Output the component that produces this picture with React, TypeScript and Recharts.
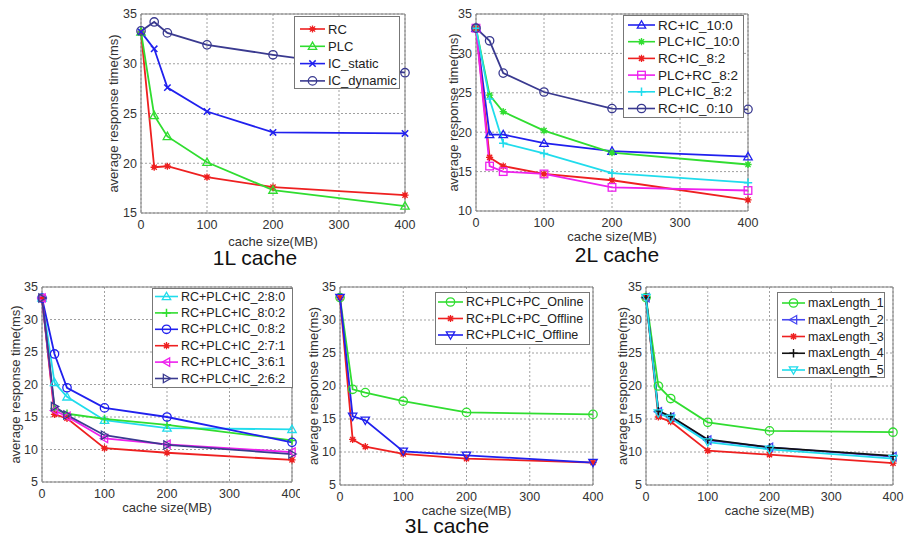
import React from 'react';
import {
  LineChart,
  Line,
  XAxis,
  YAxis,
  CartesianGrid,
  Legend,
  ReferenceArea,
} from 'recharts';

const cacheSizes = [0, 20, 40, 100, 200, 400];
const xTicks = [0, 100, 200, 300, 400];

// 1L cache
const rc1 = [33.2, 19.6, 19.7, 18.6, 17.6, 16.8];
const plc1 = [33.2, 24.8, 22.7, 20.1, 17.3, 15.7];
const icStatic1 = [33.2, 31.5, 27.6, 25.2, 23.1, 23.0];
const icDynamic1 = [33.3, 34.2, 33.1, 31.9, 30.9, 29.1];

// 2L cache
const rcIc100 = [33.2, 19.7, 19.7, 18.6, 17.6, 16.9];
const plcIc100 = [33.2, 24.7, 22.6, 20.2, 17.4, 15.9];
const rcIc82 = [33.2, 16.8, 15.7, 14.7, 13.9, 11.4];
const plcRc82 = [33.2, 15.7, 15.0, 14.7, 13.0, 12.6];
const plcIc82 = [33.2, 24.2, 18.6, 17.3, 14.8, 13.6];
const rcIc010 = [33.2, 31.6, 27.5, 25.1, 23.0, 22.9];

// 3L cache, ratios
const mix280 = [33.3, 20.3, 18.1, 14.5, 13.3, 13.1];
const mix802 = [33.3, 16.3, 15.5, 14.7, 13.8, 11.4];
const mix082 = [33.3, 24.7, 19.5, 16.4, 15.0, 11.1];
const mix271 = [33.3, 15.4, 14.8, 10.2, 9.5, 8.4];
const mix361 = [33.3, 16.0, 15.1, 11.7, 10.8, 9.6];
const mix262 = [33.3, 16.6, 15.3, 12.2, 10.7, 9.3];

// 3L cache, online / offline
const pcOnline = [33.4, 19.5, 19.0, 17.7, 16.0, 15.7];
const pcOffline = [33.4, 11.9, 10.8, 9.7, 9.0, 8.4];
const icOffline = [33.4, 15.4, 14.8, 10.1, 9.5, 8.4];

// 3L cache, maxLength
const maxLen1 = [33.4, 20.0, 18.1, 14.5, 13.2, 13.0];
const maxLen2 = [33.4, 16.1, 15.3, 11.8, 10.7, 9.3];
const maxLen3 = [33.4, 15.3, 14.6, 10.2, 9.6, 8.3];
const maxLen4 = [33.4, 16.2, 15.4, 11.9, 10.7, 9.4];
const maxLen5 = [33.4, 15.9, 15.1, 11.5, 10.4, 9.0];

const RED = '#ee2020';
const GREEN = '#30dd30';
const BLUE = '#2020ee';
const NAVY = '#3a3a90';
const MAGENTA = '#ee20ee';
const CYAN = '#20dcec';
const BLACK = '#111111';

const FONT = '"Liberation Sans", Arial, sans-serif';

type Shape = 'o' | '^' | 'v' | '<' | '>' | 's' | '*' | 'x' | '+' | '.';

interface SeriesDef {
  name: string;
  values: number[];
  color: string;
  shape: Shape;
}

function Marker({ shape, cx, cy, color }: { shape: Shape; cx: number; cy: number; color: string }) {
  const r = 4.2;
  const sw = 1.3;
  const poly = (pts: number[][]) => (
    <polygon
      points={pts.map((p) => `${cx + p[0]},${cy + p[1]}`).join(' ')}
      fill="none"
      stroke={color}
      strokeWidth={sw}
    />
  );
  switch (shape) {
    case 'o':
      return <circle cx={cx} cy={cy} r={r} fill="none" stroke={color} strokeWidth={sw} />;
    case 's':
      return <rect x={cx - 3.8} y={cy - 3.8} width={7.6} height={7.6} fill="none" stroke={color} strokeWidth={sw} />;
    case '^':
      return poly([[0, -r], [-r, r * 0.75], [r, r * 0.75]]);
    case 'v':
      return poly([[0, r], [-r, -r * 0.75], [r, -r * 0.75]]);
    case '<':
      return poly([[-r, 0], [r * 0.75, -r], [r * 0.75, r]]);
    case '>':
      return poly([[r, 0], [-r * 0.75, -r], [-r * 0.75, r]]);
    case '+':
      return (
        <path d={`M${cx - r},${cy}H${cx + r}M${cx},${cy - r}V${cy + r}`} stroke={color} strokeWidth={1.5} />
      );
    case 'x': {
      const d = 3.2;
      return (
        <path
          d={`M${cx - d},${cy - d}L${cx + d},${cy + d}M${cx - d},${cy + d}L${cx + d},${cy - d}`}
          stroke={color}
          strokeWidth={1.5}
        />
      );
    }
    case '*': {
      const d = 2.6;
      const a = 3.6;
      return (
        <g>
          <circle cx={cx} cy={cy} r={2.2} fill={color} />
          <path
            d={`M${cx - a},${cy}H${cx + a}M${cx},${cy - a}V${cy + a}M${cx - d},${cy - d}L${cx + d},${cy + d}M${cx - d},${cy + d}L${cx + d},${cy - d}`}
            stroke={color}
            strokeWidth={1.3}
          />
        </g>
      );
    }
    default:
      return <circle cx={cx} cy={cy} r={2.8} fill={color} />;
  }
}

interface LegendLayout {
  x: number;
  y: number;
  w: number;
  h: number;
  first: number;
  step: number;
  lineX0: number;
  lineX1: number;
  textX: number;
  fontSize: number;
}

// legend rows follow the order the series are declared in
function LegendBox({ series, box }: { series: SeriesDef[]; box: LegendLayout }) {
  return (
    <svg width={box.w} height={box.h} style={{ display: 'block', overflow: 'visible' }}>
      <rect x={0.5} y={0.5} width={box.w - 1} height={box.h - 1} fill="#fff" stroke="#777" />
      {series.map((s, i) => {
        const y = box.first + i * box.step;
        const mid = (box.lineX0 + box.lineX1) / 2;
        return (
          <g key={s.name}>
            <line x1={box.lineX0} x2={box.lineX1} y1={y} y2={y} stroke={s.color} strokeWidth={1.6} />
            <Marker shape={s.shape} cx={mid} cy={y} color={s.color} />
            <text
              x={box.textX}
              y={y}
              dominantBaseline="central"
              fontSize={box.fontSize}
              fontFamily={FONT}
              fill="#222"
            >
              {s.name}
            </text>
          </g>
        );
      })}
    </svg>
  );
}

interface PanelProps {
  series: SeriesDef[];
  yDomain: [number, number];
  yTicks: number[];
  plot: { x0: number; x1: number; y0: number; y1: number };
  xLabelY: number;
  yLabelX: number;
  legend: LegendLayout;
}

function Panel({ series, yDomain, yTicks, plot, xLabelY, yLabelX, legend }: PanelProps) {
  const yw = 40;
  const mt = 12;
  const mr = 16;
  const L = plot.x0 - yw;
  const T = plot.y0 - mt;
  const xh = xLabelY - plot.y1 + 14;
  const W = plot.x1 - L + mr;
  const H = plot.y1 - T + xh;

  const data = cacheSizes.map((size, i) => {
    const row: Record<string, number> = { size };
    series.forEach((s) => {
      row[s.name] = s.values[i];
    });
    return row;
  });

  return (
    <div style={{ position: 'absolute', left: L, top: T }}>
      <LineChart width={W} height={H} data={data} margin={{ top: mt, right: mr, bottom: 0, left: 0 }}>
        <CartesianGrid stroke="#a0a0a0" strokeDasharray="2 2" />
        <XAxis
          dataKey="size"
          type="number"
          domain={[0, 400]}
          ticks={xTicks}
          interval={0}
          height={xh}
          tickSize={0}
          tickMargin={7}
          axisLine={false}
          tick={{ fontSize: 12.5, fill: '#333', fontFamily: FONT }}
          label={{ value: 'cache size(MB)', position: 'insideBottom', offset: 5, fontSize: 13, fill: '#333', fontFamily: FONT }}
        />
        <YAxis
          type="number"
          domain={yDomain}
          ticks={yTicks}
          interval={0}
          width={yw}
          tickSize={0}
          tickMargin={4}
          axisLine={false}
          tick={{ fontSize: 12.5, fill: '#333', fontFamily: FONT }}
          label={{
            value: 'average response time(ms)',
            angle: -90,
            position: 'insideLeft',
            offset: yLabelX - L,
            fontSize: 13,
            fill: '#333',
            fontFamily: FONT,
            style: { textAnchor: 'middle' },
          }}
        />
        <ReferenceArea x1={0} x2={400} y1={yDomain[0]} y2={yDomain[1]} fill="none" stroke="#808080" strokeWidth={1} />
        {series.map((s) => (
          <Line
            key={s.name}
            type="linear"
            dataKey={s.name}
            name={s.name}
            stroke={s.color}
            strokeWidth={1.8}
            dot={(p: any) => <Marker key={`${s.name}-${p.index}`} shape={s.shape} cx={p.cx} cy={p.cy} color={s.color} />}
            activeDot={false}
            isAnimationActive={false}
          />
        ))}
        <Legend
          layout="vertical"
          align="center"
          verticalAlign="middle"
          wrapperStyle={{ left: legend.x - L, top: legend.y - T, width: legend.w, height: legend.h }}
          content={() => <LegendBox series={series} box={legend} />}
        />
      </LineChart>
    </div>
  );
}

const series1L: SeriesDef[] = [
  { name: 'RC', values: rc1, color: RED, shape: '*' },
  { name: 'PLC', values: plc1, color: GREEN, shape: '^' },
  { name: 'IC_static', values: icStatic1, color: BLUE, shape: 'x' },
  { name: 'IC_dynamic', values: icDynamic1, color: NAVY, shape: 'o' },
];

const series2L: SeriesDef[] = [
  { name: 'RC+IC_10:0', values: rcIc100, color: BLUE, shape: '^' },
  { name: 'PLC+IC_10:0', values: plcIc100, color: GREEN, shape: '*' },
  { name: 'RC+IC_8:2', values: rcIc82, color: RED, shape: '*' },
  { name: 'PLC+RC_8:2', values: plcRc82, color: MAGENTA, shape: 's' },
  { name: 'PLC+IC_8:2', values: plcIc82, color: CYAN, shape: '+' },
  { name: 'RC+IC_0:10', values: rcIc010, color: NAVY, shape: 'o' },
];

const series3Lmix: SeriesDef[] = [
  { name: 'RC+PLC+IC_2:8:0', values: mix280, color: CYAN, shape: '^' },
  { name: 'RC+PLC+IC_8:0:2', values: mix802, color: GREEN, shape: '+' },
  { name: 'RC+PLC+IC_0:8:2', values: mix082, color: BLUE, shape: 'o' },
  { name: 'RC+PLC+IC_2:7:1', values: mix271, color: RED, shape: '*' },
  { name: 'RC+PLC+IC_3:6:1', values: mix361, color: MAGENTA, shape: '<' },
  { name: 'RC+PLC+IC_2:6:2', values: mix262, color: NAVY, shape: '>' },
];

const series3Lonline: SeriesDef[] = [
  { name: 'RC+PLC+PC_Online', values: pcOnline, color: GREEN, shape: 'o' },
  { name: 'RC+PLC+PC_Offline', values: pcOffline, color: RED, shape: '*' },
  { name: 'RC+PLC+IC_Offline', values: icOffline, color: BLUE, shape: 'v' },
];

const series3Lmax: SeriesDef[] = [
  { name: 'maxLength_1', values: maxLen1, color: GREEN, shape: 'o' },
  { name: 'maxLength_2', values: maxLen2, color: '#4848f0', shape: '<' },
  { name: 'maxLength_3', values: maxLen3, color: RED, shape: '*' },
  { name: 'maxLength_4', values: maxLen4, color: BLACK, shape: '+' },
  { name: 'maxLength_5', values: maxLen5, color: CYAN, shape: 'v' },
];

const titleStyle: React.CSSProperties = {
  position: 'absolute',
  fontFamily: FONT,
  fontSize: 21,
  color: '#111',
  transform: 'translate(-50%, -50%)',
  whiteSpace: 'nowrap',
};

export default function App() {
  return (
    <div style={{ position: 'absolute', left: 0, top: 0, width: 906, height: 537, background: '#fff', overflow: 'hidden' }}>
      <Panel
        series={series1L}
        yDomain={[15, 35]}
        yTicks={[15, 20, 25, 30, 35]}
        plot={{ x0: 141, x1: 405, y0: 14, y1: 213 }}
        xLabelY={237}
        yLabelX={113}
        legend={{ x: 294, y: 16, w: 106, h: 73, first: 13, step: 17.3, lineX0: 6, lineX1: 31, textX: 34, fontSize: 13 }}
      />
      <div style={{ ...titleStyle, left: 255, top: 258 }}>1L cache</div>

      <Panel
        series={series2L}
        yDomain={[10, 35]}
        yTicks={[10, 15, 20, 25, 30, 35]}
        plot={{ x0: 476, x1: 748, y0: 14, y1: 211 }}
        xLabelY={232}
        yLabelX={453}
        legend={{ x: 623, y: 15, w: 121, h: 103, first: 10, step: 16.7, lineX0: 5, lineX1: 32, textX: 35, fontSize: 13.5 }}
      />
      <div style={{ ...titleStyle, left: 617, top: 255 }}>2L cache</div>

      <div style={{ position: 'absolute', left: 0, top: 0, width: 300, height: 537, overflow: 'hidden' }}>
        <Panel
          series={series3Lmix}
          yDomain={[5, 35]}
          yTicks={[5, 10, 15, 20, 25, 30, 35]}
          plot={{ x0: 42, x1: 292, y0: 287, y1: 482 }}
          xLabelY={503}
          yLabelX={15}
          legend={{ x: 152, y: 288, w: 141, h: 100, first: 8.5, step: 16.4, lineX0: 3, lineX1: 26, textX: 29, fontSize: 12.5 }}
        />
      </div>

      <Panel
        series={series3Lonline}
        yDomain={[5, 35]}
        yTicks={[5, 10, 15, 20, 25, 30, 35]}
        plot={{ x0: 340, x1: 593, y0: 287, y1: 485 }}
        xLabelY={506}
        yLabelX={313}
        legend={{ x: 435, y: 292, w: 155, h: 53, first: 10, step: 16.5, lineX0: 3, lineX1: 28, textX: 31, fontSize: 12.5 }}
      />
      <div style={{ ...titleStyle, left: 447, top: 526 }}>3L cache</div>

      <Panel
        series={series3Lmax}
        yDomain={[5, 35]}
        yTicks={[5, 10, 15, 20, 25, 30, 35]}
        plot={{ x0: 646, x1: 893, y0: 287, y1: 485 }}
        xLabelY={506}
        yLabelX={622}
        legend={{ x: 777, y: 292, w: 108, h: 86, first: 11, step: 16.75, lineX0: 5, lineX1: 28, textX: 31, fontSize: 12.5 }}
      />
    </div>
  );
}
